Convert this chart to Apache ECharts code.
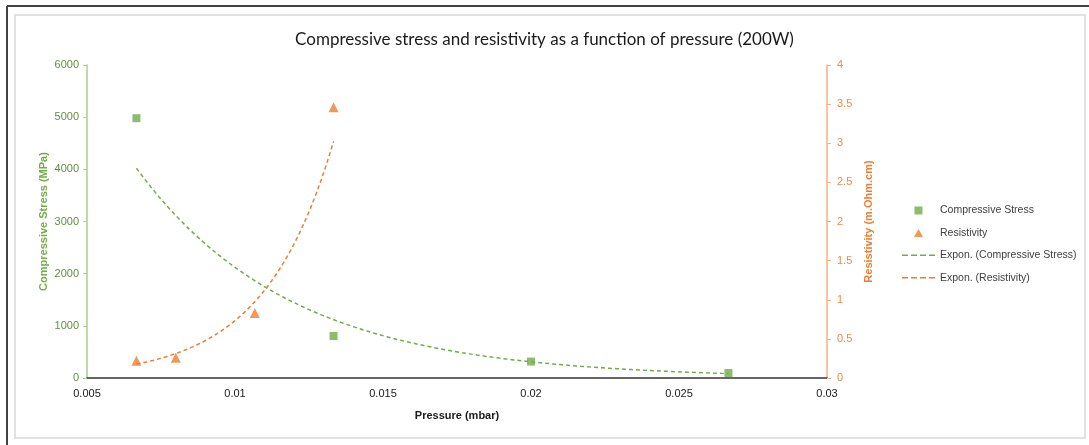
<!DOCTYPE html>
<html>
<head>
<meta charset="utf-8">
<script src="https://cdn.jsdelivr.net/npm/echarts@6/dist/echarts.min.js"></script>
<style>
  html, body { margin: 0; padding: 0; background: #fff; }
  #chart { width: 1089px; height: 445px; }
</style>
</head>
<body>
<div id="chart"></div>
<script>
// Measurements at 200 W
const stressPressure = [0.00667, 0.01333, 0.0200, 0.02667];
const stressValues = [4980, 805, 315, 95];
const resistPressure = [0.00667, 0.0080, 0.01067, 0.01333];
const resistValues = [0.22, 0.26, 0.83, 3.46];
const xTicks = [0.005, 0.01, 0.015, 0.02, 0.025, 0.03];

// Least-squares exponential fit y = a*exp(b*x), done in log space
function expFit(xs, ys) {
  const n = xs.length;
  const ly = ys.map(Math.log);
  const mx = xs.reduce((s, v) => s + v, 0) / n;
  const my = ly.reduce((s, v) => s + v, 0) / n;
  let sxy = 0, sxx = 0;
  for (let i = 0; i < n; i++) {
    sxy += (xs[i] - mx) * (ly[i] - my);
    sxx += (xs[i] - mx) * (xs[i] - mx);
  }
  const b = sxy / sxx;
  const a = Math.exp(my - b * mx);
  return x => a * Math.exp(b * x);
}

function trendPoints(xs, ys, steps) {
  const f = expFit(xs, ys);
  const x0 = Math.min(...xs), x1 = Math.max(...xs);
  const pts = [];
  for (let i = 0; i <= steps; i++) {
    const x = x0 + (x1 - x0) * i / steps;
    pts.push([x, f(x)]);
  }
  return pts;
}

const GREEN = '#70ad47';
const ORANGE = '#ed7d31';
const FONT = 'Liberation Sans';

// Legend icons share one 33x8 box: near-invisible corner dots fix the box,
// so the marker or dash pattern keeps its size and position inside it.
const BOX = 'M0,0h0.01v0.01h-0.01z M32.99,7.99h0.01v0.01h-0.01z ';
const ICON_SQUARE = 'path://' + BOX + 'M12.5,0h8v8h-8z';
const ICON_TRIANGLE = 'path://' + BOX + 'M12,8L16.5,0L21,8z';
const ICON_DASH = 'path://' + BOX +
  'M0,3h6v1.6h-6z M9,3h6v1.6h-6z M18,3h6v1.6h-6z M27,3h6v1.6h-6z';

const chart = echarts.init(document.getElementById('chart'), null, { renderer: 'canvas' });
chart.setOption({
  backgroundColor: '#ffffff',
  animation: false,
  title: {
    text: 'Compressive stress and resistivity as a function of pressure (200W)',
    left: 'center',
    top: 26,
    textStyle: { fontFamily: 'Lato', fontWeight: 'normal', fontSize: 17, color: '#1a1a1a' }
  },
  graphic: [
    { type: 'rect', shape: { x: 15, y: 15, width: 1070, height: 423 },
      style: { fill: 'none', stroke: '#d9d9d9', lineWidth: 1.5 }, silent: true },
    { type: 'line', shape: { x1: 7, y1: 6, x2: 1089, y2: 6 },
      style: { stroke: '#444', lineWidth: 2 }, silent: true },
    { type: 'line', shape: { x1: 7, y1: 6, x2: 7, y2: 445 },
      style: { stroke: '#444', lineWidth: 2 }, silent: true }
  ],
  grid: { left: 87, right: 262, top: 65, bottom: 67, containLabel: false },
  legend: {
    orient: 'vertical',
    left: 897,
    top: 200,
    itemWidth: 33,
    itemHeight: 8,
    itemGap: 11.5,
    textStyle: { fontFamily: FONT, fontSize: 10.5, color: '#404040' },
    data: [
      { name: 'Compressive Stress', icon: ICON_SQUARE, itemStyle: { color: GREEN } },
      { name: 'Resistivity', icon: ICON_TRIANGLE, itemStyle: { color: ORANGE } },
      { name: 'Expon. (Compressive Stress)', icon: ICON_DASH, itemStyle: { color: GREEN } },
      { name: 'Expon. (Resistivity)', icon: ICON_DASH, itemStyle: { color: ORANGE } }
    ]
  },
  xAxis: {
    type: 'value',
    min: 0.005,
    max: 0.03,
    interval: 0.005,
    name: 'Pressure (mbar)',
    nameLocation: 'middle',
    nameGap: 32,
    nameTextStyle: { fontFamily: FONT, fontSize: 11, fontWeight: 'bold', color: '#1a1a1a' },
    axisLine: { show: true, onZero: false, lineStyle: { color: '#333', width: 1.5 } },
    axisTick: { show: false },
    splitLine: { show: false },
    axisLabel: {
      fontFamily: FONT, fontSize: 11, color: '#1a1a1a', margin: 10,
      formatter: v => String(parseFloat(v.toFixed(4)))
    }
  },
  yAxis: [
    {
      type: 'value',
      min: 0,
      max: 6000,
      interval: 1000,
      position: 'left',
      name: 'Compressive Stress (MPa)',
      nameLocation: 'middle',
      nameGap: 38,
      nameMoveOverlap: false,
      nameTextStyle: { fontFamily: FONT, fontSize: 11, fontWeight: 'bold', color: GREEN },
      axisLine: { show: true, lineStyle: { color: '#a9d18e', width: 1.5 } },
      axisTick: { show: true, length: 4, lineStyle: { color: '#a9d18e' } },
      splitLine: { show: false },
      axisLabel: { fontFamily: FONT, fontSize: 11, color: '#5e8f3c', margin: 8,
        formatter: v => String(v) }
    },
    {
      type: 'value',
      min: 0,
      max: 4,
      interval: 0.5,
      position: 'right',
      name: 'Resistivity (m.Ohm.cm)',
      nameLocation: 'middle',
      nameGap: 36,
      nameMoveOverlap: false,
      nameTextStyle: { fontFamily: FONT, fontSize: 11, fontWeight: 'bold', color: ORANGE },
      axisLine: { show: true, lineStyle: { color: '#f4b183', width: 1.5 } },
      axisTick: { show: true, length: 4, lineStyle: { color: '#f4b183' } },
      splitLine: { show: false },
      axisLabel: { fontFamily: FONT, fontSize: 11, color: '#ef8a4a', margin: 10,
        formatter: v => String(v) }
    }
  ],
  series: [
    {
      name: 'Compressive Stress',
      type: 'scatter',
      yAxisIndex: 0,
      symbol: 'rect',
      symbolSize: 8,
      itemStyle: { color: GREEN },
      data: stressPressure.map((x, i) => [x, stressValues[i]]),
      z: 5
    },
    {
      name: 'Resistivity',
      type: 'scatter',
      yAxisIndex: 1,
      symbol: 'triangle',
      symbolSize: 10,
      itemStyle: { color: ORANGE },
      data: resistPressure.map((x, i) => [x, resistValues[i]]),
      z: 5
    },
    {
      name: 'Expon. (Compressive Stress)',
      type: 'line',
      yAxisIndex: 0,
      symbol: 'none',
      smooth: false,
      lineStyle: { color: GREEN, width: 1.5, type: [4, 3] },
      itemStyle: { color: GREEN },
      data: trendPoints(stressPressure, stressValues, 80),
      z: 3
    },
    {
      name: 'Expon. (Resistivity)',
      type: 'line',
      yAxisIndex: 1,
      symbol: 'none',
      smooth: false,
      lineStyle: { color: ORANGE, width: 1.5, type: [4, 3] },
      itemStyle: { color: ORANGE },
      data: trendPoints(resistPressure, resistValues, 80),
      z: 3
    }
  ]
});
</script>
</body>
</html>
